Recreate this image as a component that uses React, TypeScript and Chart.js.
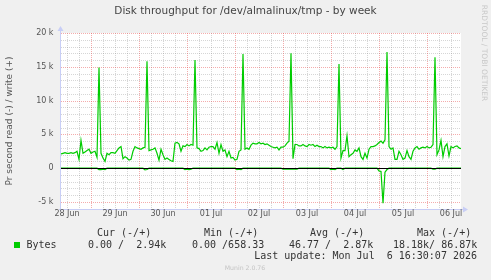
import React, { useEffect, useRef } from "react";
import { Chart, registerables } from "chart.js";

Chart.register(...registerables);

const chartTitle = "Disk throughput for /dev/almalinux/tmp - by week";
const yAxisTitle = "Pr second read (-) / write (+)";
const watermark = "RRDTOOL / TOBI OETIKER";
const footerText = "Munin 2.0.76";

// Hourly samples (k bytes/s), hour 0 = 28 Jun 09:00, hour 200 = 06 Jul 17:00
const writeK = [
  2.1, 2.2, 2.3, 2.2, 2.2, 2.3, 2.2, 2.3, 2.5, 1.3,
  4.1, 2.2, 2.4, 2.6, 2.8, 2.2, 2.4, 2.5, 1.6, 14.9,
  2.2, 1.5, 1.0, 2.2, 2.0, 2.3, 2.3, 2.2, 2.6, 3.0,
  3.2, 1.4, 1.7, 1.5, 1.2, 1.3, 2.5, 3.2, 3.0, 2.9,
  2.8, 3.0, 3.1, 15.8, 2.6, 2.7, 2.8, 3.0, 2.2, 1.2,
  2.8, 2.0, 1.3, 1.5, 1.3, 1.1, 1.0, 3.7, 3.8, 3.6,
  2.5, 3.3, 3.2, 3.5, 3.3, 3.5, 3.4, 16.0, 3.0, 2.9,
  2.5, 2.6, 3.0, 2.7, 3.1, 3.2, 3.2, 2.8, 3.8, 2.2,
  3.5, 2.5, 2.7, 1.7, 2.5, 1.5, 1.6, 1.2, 1.3, 2.5,
  2.7, 16.9, 2.8, 3.0, 2.8, 3.4, 3.7, 3.6, 3.6, 3.8,
  3.6, 3.7, 3.5, 3.6, 3.4, 3.2, 3.1, 3.0, 3.1, 2.7,
  3.1, 3.1, 3.3, 3.7, 4.0, 17.0, 1.4, 3.5, 3.5, 3.3,
  3.3, 3.5, 3.3, 3.2, 3.5, 3.4, 3.5, 3.2, 3.4, 3.2,
  3.2, 3.0, 3.2, 3.0, 3.1, 3.0, 3.1, 2.8, 3.2, 15.4,
  1.5, 2.6, 2.6, 4.8, 1.7, 2.0, 2.2, 2.7, 2.5, 3.0,
  1.7, 1.3, 2.2, 1.5, 2.8, 3.2, 3.2, 3.3, 3.5, 3.8,
  4.0, 3.7, 4.2, 17.2, 3.2, 2.8, 3.0, 1.3, 1.3, 2.5,
  2.0, 1.3, 1.5, 2.6, 1.7, 1.3, 2.5, 3.0, 3.2, 2.8,
  3.0, 3.1, 3.0, 3.2, 3.0, 3.1, 3.5, 16.4, 2.0, 2.7,
  4.1, 1.7, 3.2, 3.6, 1.8, 3.2, 3.0, 3.2, 3.3, 3.0,
  2.9,
];

// Read (k bytes/s), plotted below zero
const readK = [
  0, 0, 0, 0, 0, 0, 0, 0, 0, 0,
  0, 0, 0, 0, 0, 0, 0, 0, 0, 0.2,
  0.2, 0.15, 0.2, 0, 0, 0, 0, 0, 0, 0,
  0, 0, 0, 0, 0, 0, 0, 0, 0, 0,
  0, 0, 0.25, 0.2, 0, 0, 0, 0, 0, 0,
  0, 0, 0, 0, 0, 0, 0, 0, 0, 0,
  0, 0, 0.2, 0.15, 0.2, 0.15, 0, 0, 0, 0,
  0, 0, 0, 0, 0, 0, 0, 0, 0, 0,
  0, 0, 0, 0, 0, 0, 0, 0, 0.2, 0.15,
  0.2, 0, 0, 0, 0, 0, 0, 0, 0, 0,
  0, 0, 0, 0, 0, 0, 0, 0, 0, 0,
  0, 0.15, 0.15, 0.15, 0.15, 0.15, 0.15, 0.15, 0.15, 0,
  0, 0, 0, 0, 0, 0, 0, 0, 0, 0,
  0, 0, 0, 0, 0, 0.2, 0.15, 0.2, 0, 0,
  0, 0.2, 0, 0, 0, 0, 0, 0, 0, 0,
  0, 0, 0, 0, 0, 0, 0, 0, 0, 0.4,
  0.5, 5.2, 0.6, 0.2, 0, 0, 0, 0, 0, 0,
  0, 0, 0, 0, 0, 0, 0, 0, 0, 0,
  0, 0, 0, 0, 0, 0, 0.15, 0.15, 0, 0,
  0, 0, 0, 0, 0, 0, 0, 0, 0, 0,
  0,
];

const yMin = -6.04;
const yMax = 20;
const hourMax = 200;

const yTickValues = [20, 15, 10, 5, 0, -5];
const yTickLabels = ["20 k", "15 k", "10 k", "5 k", "0", "-5 k"];

const dayLabels = ["28 Jun", "29 Jun", "30 Jun", "01 Jul", "02 Jul", "03 Jul", "04 Jul", "05 Jul", "06 Jul"];
const dayLabelHours = [3, 27, 51, 75, 99, 123, 147, 171, 195];
const midnightHours = [15, 39, 63, 87, 111, 135, 159, 183];

const legendHeaders = ["Cur (-/+)", "Min (-/+)", "Avg (-/+)", "Max (-/+)"];
const legendValues = ["0.00 /  2.94k", "0.00 /658.33", "46.77 /  2.87k", "18.18k/ 86.87k"];
const seriesName = "Bytes";
const lastUpdate = "Last update: Mon Jul  6 16:30:07 2026";

const GREEN = "#00cc00";
const AXIS = "#c8cef6";
const MINOR = "rgba(128,128,128,0.32)";
const MAJOR = "rgba(230,70,70,0.45)";

const muninPlugin = {
  id: "munin",
  beforeDraw(chart: any) {
    const { ctx, chartArea: a } = chart;
    ctx.save();
    ctx.fillStyle = "#f0f0f0";
    ctx.fillRect(0, 0, chart.width, chart.height);
    ctx.fillStyle = "#ffffff";
    ctx.fillRect(a.left, a.top, a.right - a.left, a.bottom - a.top);
    ctx.restore();
  },
  beforeDatasetsDraw(chart: any) {
    const { ctx, chartArea: a } = chart;
    const xs = chart.scales.x;
    const ys = chart.scales.y;
    ctx.save();
    ctx.lineWidth = 1;
    ctx.setLineDash([1, 1]);
    ctx.strokeStyle = MINOR;
    for (let h = 3; h <= hourMax; h += 6) {
      if (midnightHours.includes(h)) continue;
      const x = Math.round(xs.getPixelForValue(h)) + 0.5;
      ctx.beginPath();
      ctx.moveTo(x, a.top);
      ctx.lineTo(x, a.bottom);
      ctx.stroke();
    }
    for (let v = -5; v <= yMax; v += 1) {
      if (v % 5 === 0) continue;
      const y = Math.round(ys.getPixelForValue(v)) + 0.5;
      ctx.beginPath();
      ctx.moveTo(a.left, y);
      ctx.lineTo(a.right, y);
      ctx.stroke();
    }
    ctx.strokeStyle = MAJOR;
    for (const h of midnightHours) {
      const x = Math.round(xs.getPixelForValue(h)) + 0.5;
      ctx.beginPath();
      ctx.moveTo(x, a.top);
      ctx.lineTo(x, a.bottom);
      ctx.stroke();
    }
    for (const v of yTickValues) {
      const y = Math.round(ys.getPixelForValue(v)) + 0.5;
      ctx.beginPath();
      ctx.moveTo(a.left, y);
      ctx.lineTo(a.right, y);
      ctx.stroke();
    }
    ctx.restore();
  },
  afterDatasetsDraw(chart: any) {
    const { ctx, chartArea: a } = chart;
    const xs = chart.scales.x;
    const ys = chart.scales.y;
    ctx.save();
    ctx.setLineDash([]);
    ctx.lineWidth = 1;
    const y0 = Math.round(ys.getPixelForValue(0)) + 0.5;
    ctx.strokeStyle = "#000000";
    ctx.beginPath();
    ctx.moveTo(a.left, y0);
    ctx.lineTo(a.right, y0);
    ctx.stroke();

    ctx.strokeStyle = AXIS;
    ctx.fillStyle = AXIS;
    const ax = a.left - 0.5;
    const ay = a.bottom + 0.5;
    ctx.beginPath();
    ctx.moveTo(ax, a.bottom + 2);
    ctx.lineTo(ax, a.top - 3);
    ctx.moveTo(a.left - 2, ay);
    ctx.lineTo(a.right + 3, ay);
    ctx.stroke();
    ctx.beginPath();
    ctx.moveTo(ax - 3, a.top - 2);
    ctx.lineTo(ax + 3, a.top - 2);
    ctx.lineTo(ax, a.top - 7);
    ctx.closePath();
    ctx.fill();
    ctx.beginPath();
    ctx.moveTo(a.right + 2, ay - 3);
    ctx.lineTo(a.right + 2, ay + 3);
    ctx.lineTo(a.right + 7, ay);
    ctx.closePath();
    ctx.fill();

    ctx.fillStyle = "#444444";
    ctx.font = "10.5px 'DejaVu Sans'";
    ctx.textAlign = "center";
    ctx.textBaseline = "middle";
    ctx.fillText(chartTitle, chart.width / 2, 11.5);

    ctx.fillStyle = "#555555";
    ctx.font = "8px 'DejaVu Sans'";
    ctx.textAlign = "right";
    ctx.textBaseline = "middle";
    yTickValues.forEach((v, i) => {
      ctx.fillText(yTickLabels[i], a.left - 7.5, ys.getPixelForValue(v));
    });

    ctx.textAlign = "center";
    ctx.textBaseline = "middle";
    dayLabelHours.forEach((h, i) => {
      ctx.fillText(dayLabels[i], xs.getPixelForValue(h), a.bottom + 5);
    });

    ctx.save();
    ctx.font = "9px 'DejaVu Sans'";
    ctx.translate(9.5, (a.top + a.bottom) / 2);
    ctx.rotate(-Math.PI / 2);
    ctx.textAlign = "center";
    ctx.textBaseline = "middle";
    ctx.fillText(yAxisTitle, 0, 0);
    ctx.restore();

    ctx.save();
    ctx.fillStyle = "#c8c8c8";
    ctx.font = "7.5px 'DejaVu Sans'";
    ctx.translate(484, 53);
    ctx.rotate(Math.PI / 2);
    ctx.textAlign = "center";
    ctx.textBaseline = "middle";
    ctx.fillText(watermark, 0, 0);
    ctx.restore();

    ctx.fillStyle = "#333333";
    ctx.font = "10px 'DejaVu Sans Mono'";
    ctx.textAlign = "left";
    ctx.textBaseline = "middle";
    const headerX = [97, 204, 310, 417];
    const valueX = [88, 192, 289, 393];
    legendHeaders.forEach((t, i) => ctx.fillText(t, headerX[i], 233));
    ctx.fillText(seriesName, 26.5, 245);
    legendValues.forEach((t, i) => ctx.fillText(t, valueX[i], 245));
    ctx.textAlign = "right";
    ctx.fillText(lastUpdate, 477, 256.5);
    ctx.fillStyle = GREEN;
    ctx.fillRect(14, 242, 6, 6);

    ctx.fillStyle = "#c4c4c4";
    ctx.font = "6.2px 'DejaVu Sans'";
    ctx.textAlign = "center";
    ctx.fillText(footerText, 245, 268.5);
    ctx.restore();
  },
};

export default function App() {
  const ref = useRef<HTMLCanvasElement>(null);
  useEffect(() => {
    const canvas = ref.current;
    if (!canvas) return;
    const chart = new Chart(canvas, {
      type: "line",
      data: {
        datasets: [
          {
            label: "read",
            data: readK.map((v, i) => ({ x: i, y: -v })),
            borderColor: GREEN,
            borderWidth: 1.2,
            pointRadius: 0,
            tension: 0,
          },
          {
            label: "write",
            data: writeK.map((v, i) => ({ x: i, y: v })),
            borderColor: GREEN,
            borderWidth: 1.2,
            pointRadius: 0,
            tension: 0,
          },
        ],
      },
      options: {
        responsive: false,
        animation: false,
        devicePixelRatio: 1,
        events: [],
        layout: { padding: { left: 61, right: 30, top: 33, bottom: 71 } },
        plugins: {
          legend: { display: false },
          title: { display: false },
          tooltip: { enabled: false },
        },
        scales: {
          x: { type: "linear", min: 0, max: hourMax, display: false },
          y: { type: "linear", min: yMin, max: yMax, display: false },
        },
      },
      plugins: [muninPlugin],
    });
    return () => chart.destroy();
  }, []);
  return (
    <div style={{ position: "absolute", left: 0, top: 0, width: 491, height: 280 }}>
      <canvas ref={ref} width={491} height={280} style={{ display: "block", width: 491, height: 280 }} />
    </div>
  );
}
